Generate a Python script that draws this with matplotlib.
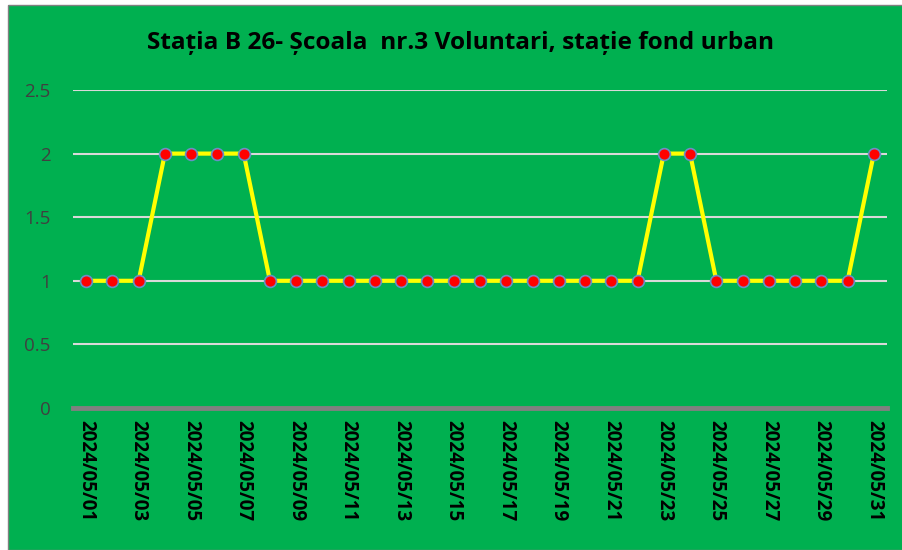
import matplotlib

matplotlib.use("Agg")
import matplotlib.pyplot as plt
from matplotlib.patches import Rectangle
from matplotlib.ticker import FuncFormatter

# Daily values for May 2024
dates = [f"2024/05/{d:02d}" for d in range(1, 32)]
values = [
    1, 1, 1, 2, 2, 2, 2, 1, 1, 1,
    1, 1, 1, 1, 1, 1, 1, 1, 1, 1,
    1, 1, 2, 2, 1, 1, 1, 1, 1, 1,
    2,
]
y_ticks = [0, 0.5, 1, 1.5, 2, 2.5]
title = "Stația B 26- Școala  nr.3 Voluntari, stație fond urban"

GREEN = "#00B050"

plt.rcParams["font.family"] = ["Open Sans", "DejaVu Sans"]

fig = plt.figure(figsize=(9.03, 5.5), dpi=100)
fig.patch.set_facecolor("white")
fig.patches.append(
    Rectangle(
        (7.5 / 903, 0), 1, 1 - 4.5 / 550,
        transform=fig.transFigure, facecolor=GREEN,
        edgecolor="#808080", linewidth=1, zorder=-1,
    )
)

ax = fig.add_axes([73 / 903, 1 - 408 / 550, 814 / 903, 318 / 550])
ax.set_zorder(2)
ax.patch.set_alpha(0)

x = list(range(len(dates)))
ax.plot(
    x, values, color="#FFFF00", linewidth=3, zorder=3,
    marker="o", markersize=8.5, markerfacecolor="#FF0000",
    markeredgecolor="#6A8FC7", markeredgewidth=1.2, clip_on=False,
)

ax.set_xlim(-0.5, len(dates) - 0.5)
ax.set_ylim(0, 2.5)
ax.set_yticks(y_ticks)
ax.yaxis.set_major_formatter(FuncFormatter(lambda v, _: f"{v:g}"))
ax.grid(axis="y", color="#D9D9D9", linewidth=1.5, zorder=1)
ax.set_axisbelow(True)
ax.axhline(0, color="#808080", linewidth=3.5, zorder=2, clip_on=False)

ax.set_xticks(x[::2])
ax.set_xticklabels(dates[::2], rotation=270, fontsize=13.5, fontweight="bold",
                   color="black")
ax.tick_params(axis="x", length=0, pad=9)
ax.tick_params(axis="y", length=0, pad=16, labelsize=13.5, labelcolor="#404040")

for side in ax.spines.values():
    side.set_visible(False)

fig.text(0.51, 1 - 43 / 550, title, ha="center", va="center",
         fontsize=17.6, fontweight="bold", color="black")

fig.savefig("out.png", dpi=100)
